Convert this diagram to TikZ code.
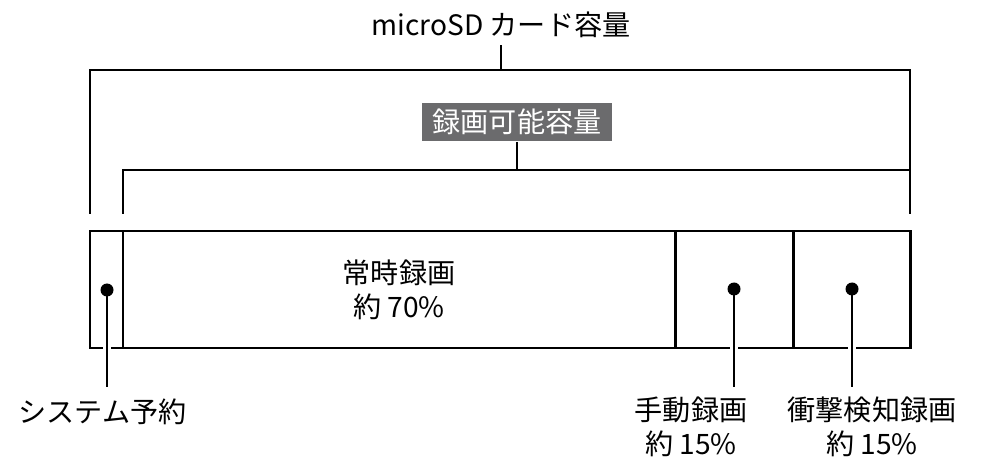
\documentclass[tikz,border=0pt]{standalone}
\usepackage{fontspec}
\setmainfont{Noto Sans CJK JP}
\usepackage{xcolor}
\usepackage{tikz}
\usetikzlibrary{positioning,calc}

\definecolor{labelgray}{HTML}{6B6B6D}

\begin{document}
\begin{tikzpicture}[x=1cm,y=1cm,
  seg/.style={draw=black,line width=1.7pt,minimum height=2.34cm,inner sep=0pt,
              outer sep=0pt,align=center,font=\fontsize{16}{19.5}\selectfont},
  brace/.style={draw=black,line width=1.1pt},
  lead/.style={draw=black,line width=1.1pt,preaction={draw=white,line width=5pt}},
  dot/.style={circle,fill=black,inner sep=0pt,minimum size=0.26cm},
  txt/.style={align=center,inner sep=0pt,font=\fontsize{16}{19.5}\selectfont}
]
\useasboundingbox (0,0) rectangle (19.7,9.24);

% card segments
\node[seg,minimum width=0.66cm] (sys) at (2.13,3.45) {};
\node[seg,minimum width=11.04cm] (always) at (7.98,3.45) {常時録画\\約 70\%};
\node[seg,minimum width=2.36cm] (manual) at (14.68,3.45) {};
\node[seg,minimum width=2.34cm] (impact) at (17.03,3.45) {};

% capacity labels
\node[txt] (card) at (10.02,8.74) {microSD カード容量};
\node[txt,fill=labelgray,text=white,inner xsep=0.22cm,inner ysep=0.13cm] (rec) at (10.34,6.8) {録画可能容量};

% brackets
\coordinate (cardL) at (1.8,7.84);
\coordinate (cardR) at (18.2,7.84);
\draw[brace] ($(sys.north west)+(0,0.34)$) -- (cardL) -- (cardR) -- ($(impact.north east)+(0,0.34)$);
\draw[brace] (card.south |- cardL) -- ++(0,0.5);
\coordinate (recL) at (2.46,5.84);
\coordinate (recR) at (18.2,5.84);
\draw[brace] ($(always.north west)+(0,0.34)$) -- (recL) -- (recR) -- ($(impact.north east)+(0,0.34)$);
\draw[brace] (rec.south) -- (rec.south |- recL);

% leaders
\coordinate (psys) at (2.14,3.44);
\coordinate (pman) at (14.68,3.46);
\coordinate (pimp) at (17.04,3.46);
\coordinate (esys) at (2.14,1.5);
\coordinate (eman) at (14.68,1.5);
\coordinate (eimp) at (17.04,1.5);
\draw[lead] (psys) -- (esys);
\draw[lead] (pman) -- (eman);
\draw[lead] (pimp) -- (eimp);
\node[dot] (dsys) at (psys) {};
\node[dot] (dman) at (pman) {};
\node[dot] (dimp) at (pimp) {};
\node[txt] (lsys) at (2.05,1.0) {システム予約};
\node[txt] (lman) at (13.82,0.7) {手動録画\\約 15\%};
\node[txt] (limp) at (17.44,0.7) {衝撃検知録画\\約 15\%};
\end{tikzpicture}
\end{document}
